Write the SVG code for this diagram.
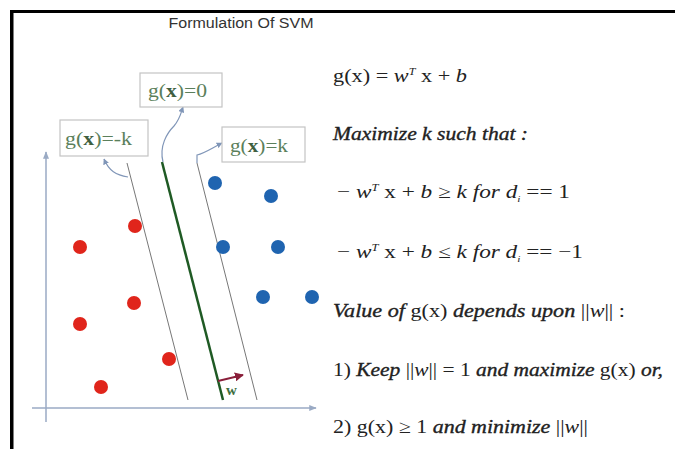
<svg xmlns="http://www.w3.org/2000/svg" width="675" height="449" viewBox="0 0 675 449">
<style>
.box{fill:#fff;stroke:#c4c4c4;stroke-width:1.2}
.btxt{font-family:"Liberation Serif",serif;font-size:19px;fill:#5b7f5b}
.bx{font-weight:bold;fill:#3f5f3f}
.axis{stroke:#9aaac4;stroke-width:1.5;fill:none}
.conn{stroke:#8096b8;stroke-width:1.2;fill:none}
.red{fill:#e0251b}
.blue{fill:#1f64b0}
.eq{font-family:"Liberation Serif",serif;font-size:18.5px;fill:#222}
.it{font-style:italic}
.bi{font-style:italic;stroke:#222;stroke-width:0.35}
.sup{font-size:10px;font-style:italic}
.sub{font-size:9px;font-style:italic}
</style>
<defs>
<marker id="ah" viewBox="0 0 10 10" refX="9" refY="5" markerWidth="5" markerHeight="5" orient="auto"><path d="M0,0 L10,5 L0,10 z" fill="#8096b8"/></marker>
<marker id="axh" viewBox="0 0 10 10" refX="9" refY="5" markerWidth="5" markerHeight="5" orient="auto"><path d="M0,1 L10,5 L0,9 z" fill="#9aaac4"/></marker>
<marker id="wh" viewBox="0 0 10 10" refX="9" refY="5" markerWidth="5" markerHeight="5" orient="auto"><path d="M0,0 L10,5 L0,10 z" fill="#8a1f3a"/></marker>
</defs>
<rect width="675" height="449" fill="#fff"/>
<rect x="10" y="10" width="665" height="3" fill="#000"/>
<rect x="10" y="10" width="3.5" height="439" fill="#000"/>
<text x="241" y="28" text-anchor="middle" font-family="Liberation Sans,Arial,sans-serif" font-size="14" fill="#333" textLength="145" lengthAdjust="spacingAndGlyphs">Formulation Of SVM</text>

<g id="axes">
<path class="axis" d="M46,422 L46,152" marker-end="url(#axh)"/>
<path class="axis" d="M32,408 L316,408" marker-end="url(#axh)"/>
</g>

<g id="lines">
<line x1="127" y1="163" x2="188" y2="400" stroke="#777" stroke-width="1"/>
<line x1="162" y1="162" x2="223" y2="400" stroke="#1f5a24" stroke-width="2.5"/>
<line x1="197" y1="163" x2="257" y2="400" stroke="#777" stroke-width="1"/>
</g>

<g id="connectors">
<path class="conn" d="M128,177 C116,175 109,171 104,159" marker-end="url(#ah)"/>
<path class="conn" d="M163,162 C159,146 167,133 174,126 C180,119 181,113 183,107" marker-end="url(#ah)"/>
<path class="conn" d="M197,163 L197,155 C205,153 212,148 222,143" marker-end="url(#ah)"/>
<path d="M218,381 L243,375" stroke="#8a1f3a" stroke-width="1.8" fill="none" marker-end="url(#wh)"/>
</g>

<g id="box-neg-k">
<rect class="box" x="60" y="120" width="88" height="36"/>
<text class="btxt" x="65" y="145" textLength="67" lengthAdjust="spacingAndGlyphs">g(<tspan class="bx">x</tspan>)=-k</text>
</g>
<g id="box-zero">
<rect class="box" x="140" y="73" width="82" height="34"/>
<text class="btxt" x="148" y="97" textLength="59" lengthAdjust="spacingAndGlyphs">g(<tspan class="bx">x</tspan>)=0</text>
</g>
<g id="box-k">
<rect class="box" x="222" y="127" width="83" height="35"/>
<text class="btxt" x="230" y="152" textLength="58" lengthAdjust="spacingAndGlyphs">g(<tspan class="bx">x</tspan>)=k</text>
</g>

<g id="w-label">
<text x="226" y="395" font-family="Liberation Serif,serif" font-size="15" font-weight="bold" fill="#3f6f3f">w</text>
</g>

<g id="points">
<circle class="red" cx="80" cy="247" r="7"/>
<circle class="red" cx="135" cy="226" r="7"/>
<circle class="red" cx="134" cy="303" r="7"/>
<circle class="red" cx="80" cy="324" r="7"/>
<circle class="red" cx="169" cy="359" r="7"/>
<circle class="red" cx="101" cy="387" r="7"/>
<circle class="blue" cx="215" cy="183" r="7"/>
<circle class="blue" cx="271" cy="196" r="7"/>
<circle class="blue" cx="223" cy="247" r="7"/>
<circle class="blue" cx="278" cy="247" r="7"/>
<circle class="blue" cx="263" cy="297" r="7"/>
<circle class="blue" cx="312" cy="297" r="7"/>
</g>

<g id="equations">
<text class="eq" x="333" y="82" textLength="134" lengthAdjust="spacingAndGlyphs">g(x) = <tspan class="it">w</tspan><tspan class="sup" dy="-7">T</tspan><tspan dy="7"> x + </tspan><tspan class="it">b</tspan></text>
<text class="eq bi" x="333" y="140" textLength="195" lengthAdjust="spacingAndGlyphs">Maximize k such that :</text>
<text class="eq" x="337" y="198" textLength="233" lengthAdjust="spacingAndGlyphs">− <tspan class="it">w</tspan><tspan class="sup" dy="-7">T</tspan><tspan dy="7"> x + </tspan><tspan class="it">b</tspan> ≥ <tspan class="it">k for d</tspan><tspan class="sub" dy="4">i</tspan><tspan dy="-4"> == 1</tspan></text>
<text class="eq" x="337" y="258" textLength="246" lengthAdjust="spacingAndGlyphs">− <tspan class="it">w</tspan><tspan class="sup" dy="-7">T</tspan><tspan dy="7"> x + </tspan><tspan class="it">b</tspan> ≤ <tspan class="it">k for d</tspan><tspan class="sub" dy="4">i</tspan><tspan dy="-4"> == −1</tspan></text>
<text class="eq" x="333" y="317" textLength="292" lengthAdjust="spacingAndGlyphs"><tspan class="bi">Value of </tspan>g(x)<tspan class="bi"> depends upon </tspan>||<tspan class="it">w</tspan>|| :</text>
<text class="eq" x="333" y="376" textLength="330" lengthAdjust="spacingAndGlyphs">1) <tspan class="bi">Keep </tspan>||<tspan class="it">w</tspan>|| = 1 <tspan class="bi">and maximize </tspan>g(x)<tspan class="bi"> or,</tspan></text>
<text class="eq" x="333" y="433" textLength="255" lengthAdjust="spacingAndGlyphs">2) g(x) ≥ 1 <tspan class="bi">and minimize </tspan>||<tspan class="it">w</tspan>||</text>
</g>
</svg>
